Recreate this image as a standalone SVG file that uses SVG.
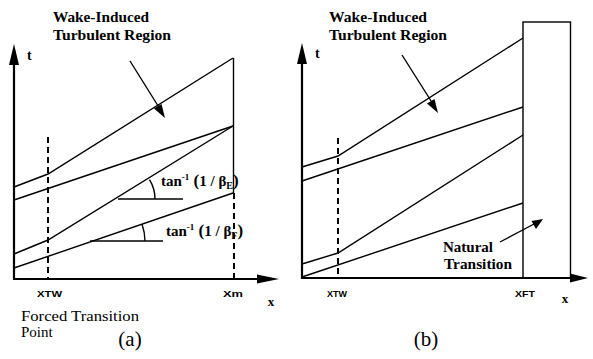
<svg xmlns="http://www.w3.org/2000/svg" width="593" height="359" viewBox="0 0 593 359">
<defs>
<style>
.ax{stroke:#000;stroke-width:2.2;fill:none}
.ln{stroke:#000;stroke-width:1.4;fill:none}
.dash{stroke:#000;stroke-width:2;fill:none;stroke-dasharray:6 4}
.hd{fill:#000;stroke:none}
.lbl{font-family:"Liberation Serif","Times New Roman",serif;font-weight:bold;fill:#000}
.cap{font-family:"Liberation Serif","Times New Roman",serif;fill:#000}
.sm{font-family:"Liberation Sans",Arial,sans-serif;font-weight:bold;fill:#000;font-size:9px}
</style>
</defs>
<rect width="593" height="359" fill="#fff"/>

<g id="panel-a-axes">
<line class="ax" x1="14" y1="279" x2="14" y2="60"/>
<polygon class="hd" points="14,44 9,65 19,65"/>
<line class="ax" x1="13" y1="279" x2="262" y2="279"/>
<polygon class="hd" points="279,279 257,274.5 257,283.5"/>
<text class="lbl" x="27" y="60" font-size="14">t</text>
<text class="lbl" x="271" y="306" font-size="13" text-anchor="middle">x</text>
<text class="sm" x="37" y="297" textLength="25" lengthAdjust="spacingAndGlyphs">XTW</text>
<text class="sm" x="223" y="297" textLength="20" lengthAdjust="spacingAndGlyphs">Xm</text>
</g>

<g id="connectors-a">
<line class="dash" x1="48" y1="137" x2="48" y2="279"/>
<line class="ln" x1="233.5" y1="58" x2="233.5" y2="193" stroke-width="1.6"/>
<line class="dash" x1="234" y1="193" x2="234" y2="279"/>
<polyline class="ln" points="14,187 48,174 233,58"/>
<line class="ln" x1="14" y1="200" x2="233" y2="126"/>
<polyline class="ln" points="14,254 48,240 233,126"/>
<line class="ln" x1="14" y1="268" x2="233" y2="193"/>
<line class="ln" x1="118" y1="199" x2="183" y2="199"/>
<path class="ln" d="M155,199 A37,37 0 0 0 149.5,179.6"/>
<line class="ln" x1="90" y1="241" x2="163" y2="241"/>
<path class="ln" d="M145,241 A55,55 0 0 0 142,224"/>
<line class="ln" x1="130" y1="61" x2="160" y2="109"/>
<polygon class="hd" points="165,118 154,108.5 161.5,104"/>
</g>

<g id="label-a-wake">
<text class="lbl" x="53" y="22" font-size="15" textLength="96" lengthAdjust="spacingAndGlyphs">Wake-Induced</text>
<text class="lbl" x="53" y="40" font-size="15" textLength="118" lengthAdjust="spacingAndGlyphs">Turbulent Region</text>
</g>
<g id="label-a-tanE">
<text class="lbl" x="161" y="186" font-size="15">tan<tspan font-size="9" dy="-6">-1</tspan><tspan dy="6" font-size="17"> (</tspan><tspan>1 / β</tspan><tspan font-size="10" dy="3">E</tspan><tspan dy="-3" font-size="17">)</tspan></text>
</g>
<g id="label-a-tanF">
<text class="lbl" x="166" y="236" font-size="15">tan<tspan font-size="9" dy="-6">-1</tspan><tspan dy="6" font-size="17"> (</tspan><tspan>1 / β</tspan><tspan font-size="10" dy="3">F</tspan><tspan dy="-3" font-size="17">)</tspan></text>
</g>
<g id="label-a-forced">
<text class="cap" x="21" y="321" font-size="15" textLength="118" lengthAdjust="spacingAndGlyphs">Forced Transition</text>
<text class="cap" x="21" y="337" font-size="15">Point</text>
</g>
<text class="cap" x="130" y="346" font-size="21" text-anchor="middle">(a)</text>

<g id="panel-b-axes">
<line class="ax" x1="302" y1="279" x2="302" y2="58"/>
<polygon class="hd" points="302,43 297,64 307,64"/>
<line class="ax" x1="301" y1="278" x2="573" y2="278"/>
<polygon class="hd" points="588,278 570,273.5 570,282.5"/>
<text class="lbl" x="315" y="58" font-size="14">t</text>
<text class="lbl" x="565" y="303" font-size="13" text-anchor="middle">x</text>
<text class="sm" x="327" y="297" textLength="20" lengthAdjust="spacingAndGlyphs">XTW</text>
<text class="sm" x="515" y="297" textLength="20" lengthAdjust="spacingAndGlyphs">XFT</text>
</g>

<g id="natural-transition-box">
<rect class="ln" x="523" y="22" width="47.5" height="256" stroke-width="1.8"/>
</g>

<g id="connectors-b">
<line class="dash" x1="338" y1="138" x2="338" y2="278"/>
<polyline class="ln" points="302,167 338,156 523,38"/>
<line class="ln" x1="302" y1="181" x2="523" y2="107"/>
<polyline class="ln" points="302,264 338,253 523,135"/>
<line class="ln" x1="302" y1="277" x2="523" y2="203"/>
<line class="ln" x1="402" y1="55" x2="433" y2="104"/>
<polygon class="hd" points="438,113 427,103.5 434.5,99"/>
<line class="ln" x1="500" y1="242" x2="534" y2="224"/>
<polygon class="hd" points="543,219 536,229 531.5,221"/>
</g>

<g id="label-b-wake">
<text class="lbl" x="329" y="22" font-size="15" textLength="98" lengthAdjust="spacingAndGlyphs">Wake-Induced</text>
<text class="lbl" x="329" y="40" font-size="15" textLength="118" lengthAdjust="spacingAndGlyphs">Turbulent Region</text>
</g>
<g id="label-b-natural">
<text class="lbl" x="443" y="252" font-size="15" textLength="50" lengthAdjust="spacingAndGlyphs">Natural</text>
<text class="lbl" x="444" y="269" font-size="15" textLength="68" lengthAdjust="spacingAndGlyphs">Transition</text>
</g>
<text class="cap" x="426" y="346" font-size="21" text-anchor="middle">(b)</text>
</svg>
